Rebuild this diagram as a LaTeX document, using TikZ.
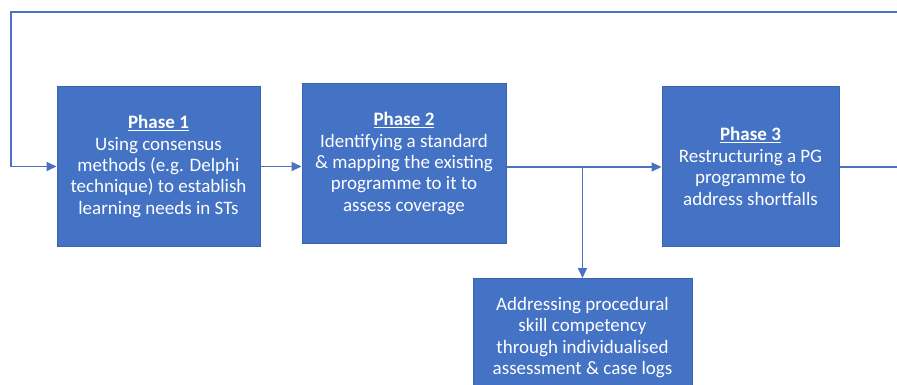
\documentclass[tikz,border=0pt]{standalone}
\usepackage{fontspec}
\setmainfont{Carlito}
\usetikzlibrary{arrows.meta}
\definecolor{boxblue}{HTML}{4472C4}
\definecolor{boxedge}{HTML}{3A64AE}
\definecolor{linkblue}{HTML}{4A72C0}
\begin{document}
\begin{tikzpicture}[x=1pt,y=-1pt,
  phasebox/.style={draw=boxedge,line width=1pt,fill=boxblue,text=white,
    align=center,inner sep=0pt,font=\fontsize{19}{21.4}\selectfont},
  link/.style={draw=linkblue,line width=1.8pt,
    -{Triangle[length=10pt,width=9pt]}}]
\useasboundingbox (0,0) rectangle (897,385);
\clip (0,0) rectangle (897,385);
\node[phasebox,minimum width=203pt,minimum height=159pt] (b1) at (158.5,166.5)
  {\underline{\textbf{Phase 1}}\\Using consensus\\methods (e.g. Delphi\\technique) to establish\\learning needs in STs};
\node[phasebox,minimum width=204pt,minimum height=159pt] (b2) at (404,163.5)
  {\underline{\textbf{Phase 2}}\\Identifying a standard\\\& mapping the existing\\programme to it to\\assess coverage};
\node[phasebox,minimum width=177pt,minimum height=159pt] (b3) at (750.5,166.5)
  {\underline{\textbf{Phase 3}}\\Restructuring a PG\\programme to\\address shortfalls};
\node[phasebox,minimum width=219pt,minimum height=118pt,anchor=north] (b4) at (582.5,278)
  {Addressing procedural\\skill competency\\through individualised\\assessment \& case logs};
% feedback loop running off the right edge and back over the top
\coordinate (r1) at (910,167);
\coordinate (r2) at (910,12);
\coordinate (l1) at (11,12);
\draw[link] (b3.east |- r1) -- (r1) -- (r2) -- (l1) |- (b1.west);
% forward flow
\draw[link] (b1.east) -- (b1.east -| b2.west);
\coordinate (j) at (582.5,167);
\draw[link] (b2.east |- j) -- (b3.west |- j);
\draw[link] (j) -- (b4.north);
\end{tikzpicture}
\end{document}
